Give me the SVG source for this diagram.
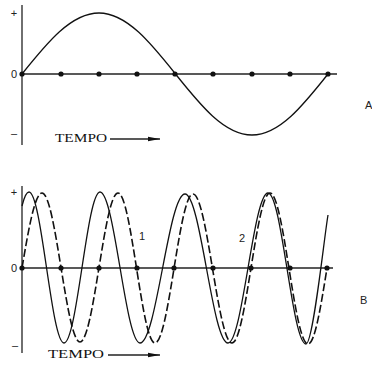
<svg xmlns="http://www.w3.org/2000/svg" width="372" height="368" viewBox="0 0 372 368">
<style>
.axis{stroke:#222;stroke-width:1.3;fill:none}
.wave{stroke:#111;stroke-width:1.3;fill:none}
.dash{stroke:#111;stroke-width:1.6;fill:none;stroke-dasharray:8 3}
.dot{fill:#111}
.lbl{font-family:"Liberation Sans",Arial,sans-serif;font-size:11px;fill:#222}
.num{font-family:"Liberation Sans",Arial,sans-serif;font-size:11px;fill:#222}
.tempo{font-family:"Liberation Serif","Times New Roman",serif;font-size:12px;fill:#111}
</style>
<defs>
<marker id="ah" markerWidth="12" markerHeight="6" refX="12" refY="3" orient="auto" markerUnits="userSpaceOnUse">
<path d="M0,0.8 L12,3 L0,5.2 Z" fill="#111"/>
</marker>
<circle id="d" r="2.6" class="dot"/>
</defs>

<g id="graphA">
<line class="axis" x1="22" y1="5" x2="22" y2="145"/>
<line class="axis" x1="22" y1="74" x2="337" y2="74" stroke-width="1"/>
<text class="num" x="14" y="17" text-anchor="middle">+</text>
<text class="num" x="14" y="78" text-anchor="middle">0</text>
<text class="num" x="14" y="137" text-anchor="middle">–</text>
<path class="wave" d="M22,74 C47.1,42.7 71.1,13 99,13 C154.6,13 196.4,135 252,135 C279.5,135 303.2,105.3 328,74"/>
<g>
<use href="#d" x="22" y="74"/><use href="#d" x="61" y="74"/><use href="#d" x="99" y="74"/><use href="#d" x="137" y="74"/><use href="#d" x="175" y="74"/><use href="#d" x="213" y="74"/><use href="#d" x="252" y="74"/><use href="#d" x="290" y="74"/><use href="#d" x="328" y="74"/>
</g>
<text class="tempo" x="55" y="142" textLength="52" lengthAdjust="spacingAndGlyphs">TEMPO</text>
<line class="axis" x1="110" y1="139" x2="160" y2="139" marker-end="url(#ah)" stroke-width="1"/>
<text class="lbl" x="365" y="109">A</text>
</g>

<g id="graphB">
<line class="axis" x1="22" y1="186" x2="22" y2="353"/>
<line class="axis" x1="22" y1="268" x2="333" y2="268" stroke-width="1"/>
<text class="num" x="14" y="196" text-anchor="middle">+</text>
<text class="num" x="14" y="272" text-anchor="middle">0</text>
<text class="num" x="15" y="349" text-anchor="middle">–</text>
<path class="wave" d="M22,206 C24.3,196.7 26.7,192 29,192 C41.7,192 51.3,343 64,343 C77.1,343 86.9,192 100,192 C114.5,192 125.5,343 140,343 C156.4,343 168.6,194 185,194 C200.6,194 212.4,343 228,343 C242.5,343 253.5,193 268,193 C281.8,193 292.2,344 306,344 C313,344 324,238.6 328,215"/>
<path class="dash" d="M22,268 C28.5,229.6 34.8,193 42,193 C55.8,193 66.2,342 80,342 C93.8,342 104.2,193 118,193 C131.4,193 141.6,343 155,343 C168.8,343 179.2,194 193,194 C207.2,194 217.8,343 232,343 C245.8,343 256.2,193 270,193 C283.8,193 294.2,344 308,344 C314.9,344 320.8,306.6 327,268"/>
<g>
<use href="#d" x="22" y="268"/><use href="#d" x="61" y="268"/><use href="#d" x="99" y="268"/><use href="#d" x="137" y="268"/><use href="#d" x="174" y="268"/><use href="#d" x="213" y="268"/><use href="#d" x="251" y="268"/><use href="#d" x="290" y="268"/><use href="#d" x="327" y="268"/>
</g>
<text class="num" x="142" y="240" text-anchor="middle">1</text>
<text class="num" x="242" y="242" text-anchor="middle">2</text>
<text class="tempo" x="48" y="358" textLength="56" lengthAdjust="spacingAndGlyphs">TEMPO</text>
<line class="axis" x1="108" y1="355" x2="160" y2="355" marker-end="url(#ah)" stroke-width="1"/>
<text class="lbl" x="360" y="304">B</text>
</g>
</svg>
